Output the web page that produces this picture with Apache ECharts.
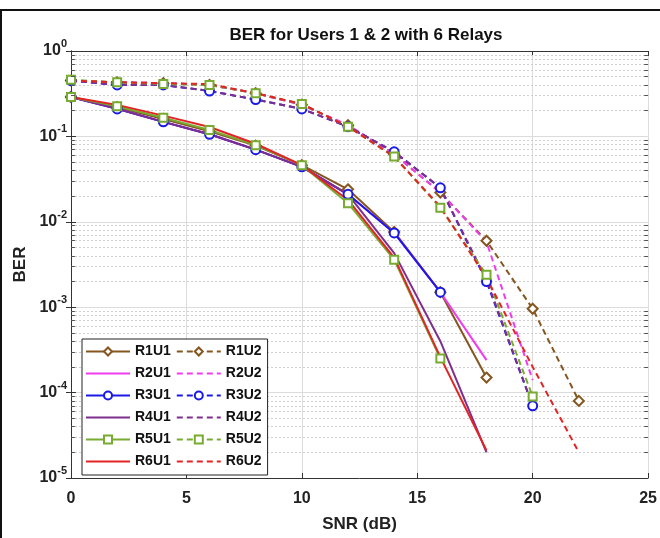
<!DOCTYPE html>
<html>
<head>
<meta charset="utf-8">
<script src="https://cdn.jsdelivr.net/npm/echarts@6/dist/echarts.min.js"></script>
<style>
  html, body { margin: 0; padding: 0; background: #fff; }
  #main { width: 660px; height: 538px; }
</style>
</head>
<body>
<div id="main"></div>
<script>
var myChart = echarts.init(document.getElementById('main'));

// SNR points (dB)
var snr = [0, 2, 4, 6, 8, 10, 12, 14, 16, 18, 20, 22];

// user 1 (solid)
var r1u1 = [0.29, 0.22, 0.16, 0.115, 0.078, 0.046, 0.024, 0.0076, 0.0015, 0.00015];
var r2u1 = [0.29, 0.21, 0.148, 0.106, 0.070, 0.044, 0.021, 0.0074, 0.0015, 0.00024];
var r3u1 = [0.29, 0.21, 0.148, 0.106, 0.070, 0.044, 0.021, 0.0074, 0.0015];
var r4u1 = [0.29, 0.21, 0.148, 0.106, 0.070, 0.044, 0.021, 0.0043, 0.0004, 0.00002];
var r5u1 = [0.29, 0.225, 0.165, 0.119, 0.079, 0.046, 0.0165, 0.0036, 0.00025];
var r6u1 = [0.29, 0.234, 0.175, 0.129, 0.082, 0.046, 0.018, 0.0038, 0.00026, 0.000021];

// user 2 (dashed)
var r1u2 = [0.45, 0.43, 0.42, 0.40, 0.32, 0.235, 0.135, 0.062, 0.022, 0.006, 0.00096, 0.00008];
var r2u2 = [0.45, 0.43, 0.42, 0.40, 0.32, 0.235, 0.135, 0.062, 0.022, 0.0058, 0.00014];
var r3u2 = [0.45, 0.40, 0.40, 0.34, 0.27, 0.21, 0.13, 0.066, 0.025, 0.002, 0.00007];
var r4u2 = [0.45, 0.40, 0.40, 0.34, 0.27, 0.21, 0.13, 0.066, 0.025, 0.0021, 0.00007];
var r5u2 = [0.46, 0.43, 0.41, 0.40, 0.32, 0.24, 0.13, 0.058, 0.0146, 0.0024, 0.00009];
var r6u2 = [0.45, 0.43, 0.42, 0.41, 0.32, 0.24, 0.13, 0.058, 0.015, 0.0022, 0.0002, 0.00002];

var relayColors = ['#85561f', '#f03cf0', '#1a1ae6', '#7e2f8e', '#77ac30', '#e32424'];
var relaySymbols = ['emptyDiamond', 'none', 'emptyCircle', 'none', 'emptyRect', 'none'];
var relaySymbolSizes = [10, 0, 9, 0, 8, 0];

var u1Data = [r1u1, r2u1, r3u1, r4u1, r5u1, r6u1];
var u2Data = [r1u2, r2u2, r3u2, r4u2, r5u2, r6u2];

// minor grid values 2..9 for each decade
var minorVals = [];
for (var e = -5; e < 0; e++) {
    for (var m = 2; m <= 9; m++) {
        minorVals.push(m * Math.pow(10, e));
    }
}

function toPairs(vals) {
    return vals.map(function (v, i) { return [snr[i], v]; });
}

function makeSeries(name, vals, idx, dashed) {
    return {
        name: name,
        type: 'line',
        data: toPairs(vals),
        symbol: relaySymbols[idx],
        symbolSize: relaySymbolSizes[idx],
        showSymbol: relaySymbols[idx] !== 'none',
        color: relayColors[idx],
        itemStyle: { color: relayColors[idx], borderWidth: 2 },
        lineStyle: {
            width: 2,
            type: dashed ? [6, 4] : 'solid',
            color: relayColors[idx]
        },
        z: 3,
        animation: false
    };
}

var series = [];
var legendItems = [];
for (var i = 0; i < 6; i++) {
    ['U1', 'U2'].forEach(function (u) {
        var item = { name: 'R' + (i + 1) + u };
        if (relaySymbols[i] === 'none') {
            item.itemStyle = { color: 'rgba(0,0,0,0)', borderColor: 'rgba(0,0,0,0)', borderWidth: 0 };
        }
        legendItems.push(item);
    });
}
for (var i = 0; i < 6; i++) {
    series.push(makeSeries('R' + (i + 1) + 'U1', u1Data[i], i, false));
}
for (var i = 0; i < 6; i++) {
    series.push(makeSeries('R' + (i + 1) + 'U2', u2Data[i], i, true));
}

// helper series: minor grid lines and minor ticks
var minorGrid = minorVals.map(function (v) { return { yAxis: v }; });
var minorTicks = [];
minorVals.forEach(function (v) {
    minorTicks.push([{ coord: [0, v] }, { coord: [0.17, v] }]);
    minorTicks.push([{ coord: [24.83, v] }, { coord: [25, v] }]);
});
series.push({
    name: 'minorGrid',
    type: 'line',
    data: [],
    silent: true,
    animation: false,
    markLine: {
        silent: true,
        symbol: 'none',
        precision: 12,
        z: 1,
        animation: false,
        label: { show: false },
        lineStyle: { color: '#cfcfcf', type: [2, 2], width: 1 },
        data: minorGrid
    }
});
series.push({
    name: 'minorTicks',
    type: 'line',
    data: [],
    silent: true,
    animation: false,
    markLine: {
        silent: true,
        symbol: 'none',
        precision: 12,
        z: 4,
        animation: false,
        label: { show: false },
        lineStyle: { color: '#555', type: 'solid', width: 1 },
        data: minorTicks
    }
});

var fontFam = 'Liberation Sans, Arial, sans-serif';

option = {
    backgroundColor: '#fff',
    textStyle: { fontFamily: fontFam },
    title: {
        text: 'BER for Users 1 & 2 with 6 Relays',
        left: 361,
        textAlign: 'center',
        top: 22,
        textStyle: { fontSize: 17, fontWeight: 'bold', color: '#111', fontFamily: fontFam }
    },
    grid: { left: 71, top: 51, width: 580, height: 429 },
    legend: {
        data: legendItems,
        orient: 'horizontal',
        left: 82,
        top: 339,
        width: 184,
        itemWidth: 44,
        itemHeight: 10,
        itemGap: 5,
        padding: [4, 6, 5, 3],
        backgroundColor: '#fff',
        borderColor: '#222',
        borderWidth: 1,
        borderRadius: 0,
        textStyle: { fontSize: 14, fontWeight: 'bold', color: '#111', lineHeight: 17, fontFamily: fontFam }
    },
    xAxis: [
        {
            type: 'value',
            min: 0,
            max: 25,
            interval: 5,
            name: 'SNR (dB)',
            nameLocation: 'middle',
            nameGap: 38,
            nameTextStyle: { fontSize: 17, fontWeight: 'bold', color: '#222' },
            axisLine: { lineStyle: { color: '#333', width: 1 } },
            axisTick: { inside: true, length: 5, lineStyle: { color: '#333' } },
            axisLabel: { fontSize: 16, fontWeight: 'bold', color: '#222', margin: 13 },
            splitLine: { show: true, lineStyle: { color: '#dcdcdc', width: 1 } }
        },
        {
            type: 'value',
            position: 'top',
            min: 0,
            max: 25,
            interval: 5,
            axisLine: { lineStyle: { color: '#333', width: 1 } },
            axisTick: { inside: true, length: 5, lineStyle: { color: '#333' } },
            axisLabel: { show: false },
            splitLine: { show: false }
        }
    ],
    yAxis: [
        {
            type: 'log',
            logBase: 10,
            min: 1e-5,
            max: 1,
            splitNumber: 5,
            name: 'BER',
            nameLocation: 'middle',
            nameGap: 37,
            nameTextStyle: { fontSize: 17, fontWeight: 'bold', color: '#222' },
            axisLine: { show: true, lineStyle: { color: '#333', width: 1 } },
            axisTick: { inside: true, length: 5, lineStyle: { color: '#333' } },
            axisLabel: {
                margin: 4,
                formatter: function (v) {
                    var ex = Math.round(Math.log10(v));
                    return '{b|10}{s|' + ex + '}';
                },
                rich: {
                    b: { fontSize: 16, fontWeight: 'bold', color: '#222', fontFamily: fontFam },
                    s: { fontSize: 11, fontWeight: 'bold', color: '#222', padding: [0, 0, 14, 0], fontFamily: fontFam }
                }
            },
            splitLine: { show: true, lineStyle: { color: '#dcdcdc', width: 1 } }
        },
        {
            type: 'log',
            logBase: 10,
            min: 1e-5,
            max: 1,
            splitNumber: 5,
            position: 'right',
            axisLine: { show: true, lineStyle: { color: '#333', width: 1 } },
            axisTick: { inside: true, length: 5, lineStyle: { color: '#333' } },
            axisLabel: { show: false },
            splitLine: { show: false }
        }
    ],
    graphic: [
        { type: 'line', shape: { x1: 0, y1: 10, x2: 660, y2: 10 }, style: { stroke: '#111', lineWidth: 2 } },
        { type: 'line', shape: { x1: 1, y1: 10, x2: 1, y2: 538 }, style: { stroke: '#111', lineWidth: 2 } }
    ],
    series: series
};

myChart.setOption(option);
</script>
</body>
</html>
